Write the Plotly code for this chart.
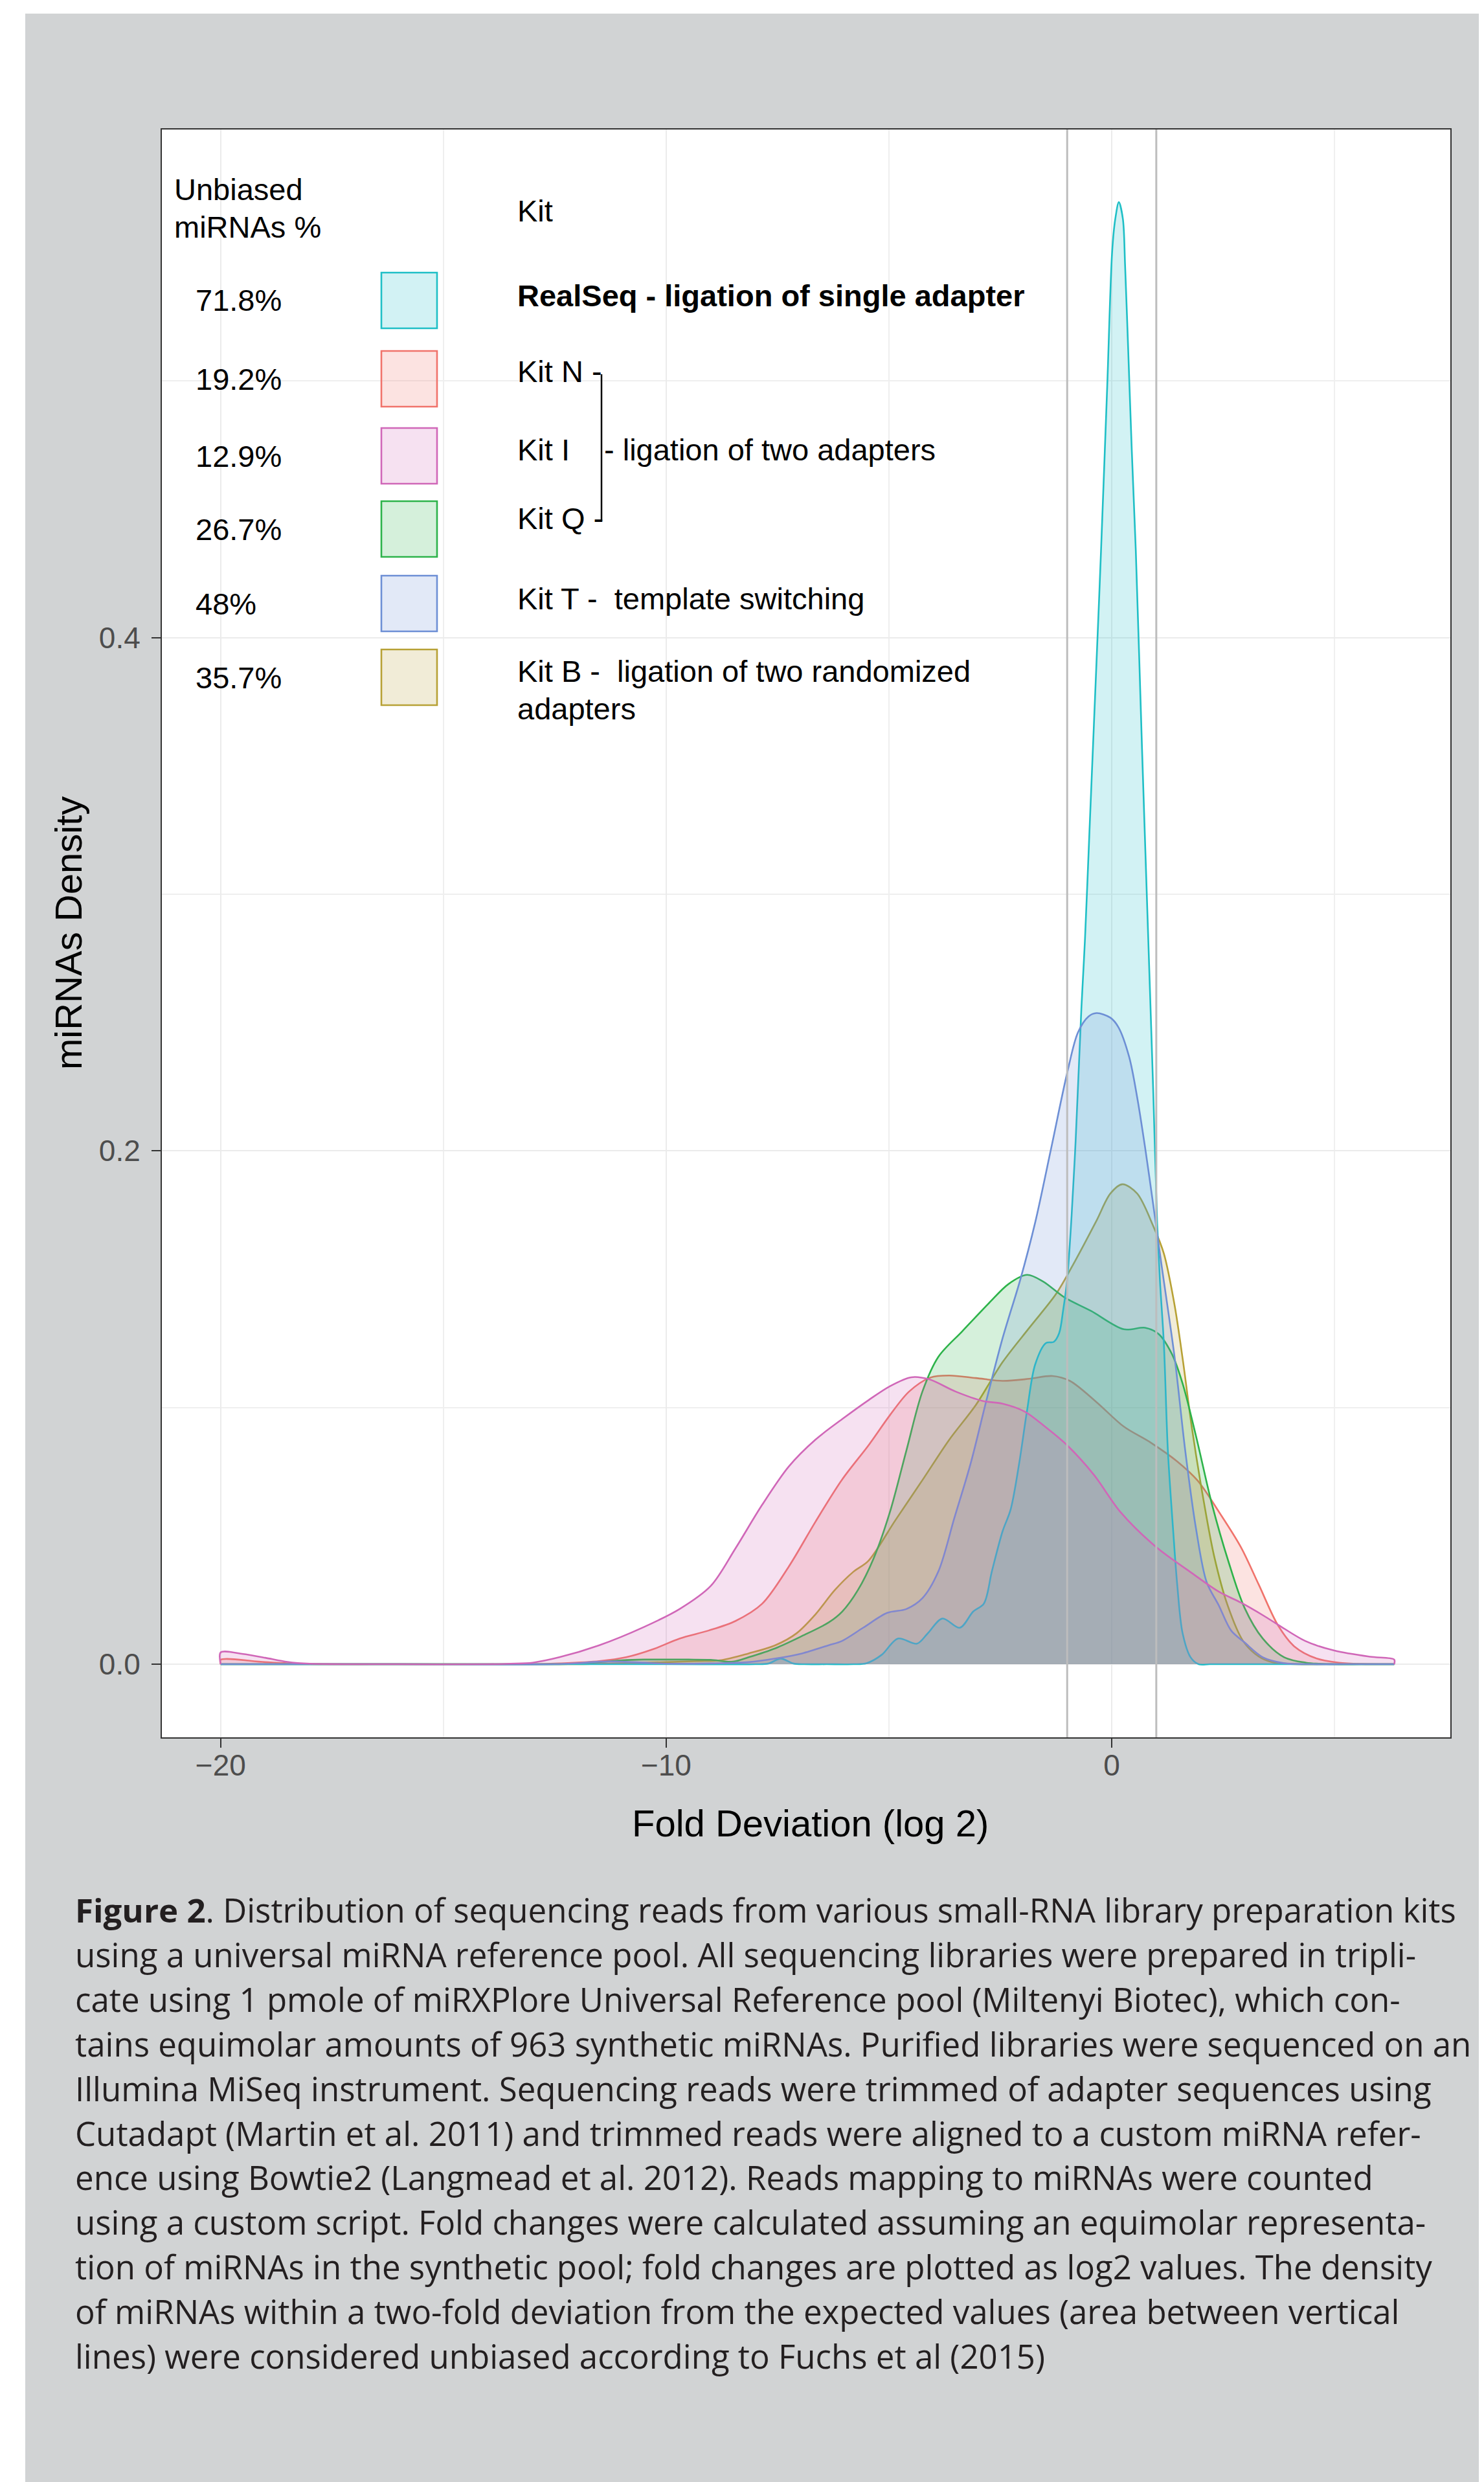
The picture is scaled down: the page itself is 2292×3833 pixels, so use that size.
import plotly.graph_objects as go

# ---------------- data ----------------
realseq_x = [-20, -14, -10, -8.0, -7.7, -7.43, -7.15, -6.9, -6.4, -5.8, -5.5, -5.16, -4.8, -4.37, -4.13, -3.8, -3.41,
             -3.11, -2.87, -2.69, -2.45, -2.27, -2.08, -1.9, -1.72, -1.48, -1.3, -1.18, -1.09, -1.0, -0.9, -0.81,
             -0.68, -0.6, -0.5, -0.4, -0.3, -0.24, -0.1, 0.01, 0.08, 0.16, 0.25, 0.3, 0.37, 0.45, 0.54, 0.68, 0.82,
             0.93, 1.02, 1.08, 1.17, 1.26, 1.38, 1.47, 1.59, 1.77, 1.95, 2.2, 2.8, 4.0, 5.2, 6.34]
realseq_y = [0, 0, 0, 0, 0.0003, 0.0022, 0.0003, 0, 0, 0, 0.0004, 0.0037, 0.0100, 0.0080, 0.0120, 0.0178, 0.0142,
             0.0205, 0.0236, 0.0362, 0.0518, 0.0602, 0.0780, 0.0989, 0.1167, 0.1251, 0.1256, 0.1290, 0.1380, 0.1500,
             0.1750, 0.2040, 0.2560, 0.2826, 0.3244, 0.3662, 0.4080, 0.4340, 0.4985, 0.5506, 0.5632, 0.5697, 0.5632,
             0.5450, 0.5120, 0.4730, 0.4340, 0.3567, 0.2826, 0.2242, 0.1719, 0.1500, 0.1250, 0.0832, 0.0518, 0.0310,
             0.0121, 0.0027, 0.0, 0.0, 0.0, 0.0, 0.0, 0.0]

kitn_x = [-20, -19, -18, -16, -14, -13, -12.4, -11.5, -10.9, -10.3, -9.7, -9.05, -8.45, -7.85, -7.25, -6.65, -6.05,
          -5.45, -4.98, -4.55, -4.07, -3.65, -3.05, -2.45, -1.85, -1.33, -0.94, -0.34, 0.27, 0.87, 1.47, 1.93, 2.42,
          2.9, 3.3, 3.73, 4.1, 4.6, 5.1, 5.6, 6.34]
kitn_y = [0.0017, 0.0008, 0.0001, 0.0, 0.0, 0.0, 0.0003, 0.0012, 0.0027, 0.0058, 0.0100, 0.0131, 0.0168, 0.0235,
          0.0380, 0.0555, 0.0720, 0.0855, 0.0970, 0.1062, 0.1117, 0.1125, 0.1115, 0.1104, 0.1112, 0.1123, 0.1104,
          0.1021, 0.0926, 0.0864, 0.0790, 0.0715, 0.0590, 0.0456, 0.0310, 0.0152, 0.0069, 0.0022, 0.0006, 0.0001,
          0.0]

kiti_x = [-20, -19.5, -19, -18.5, -18, -16, -14, -13.5, -13, -12.4, -11.5, -10.5, -9.7, -9.0, -8.45, -7.85, -7.25,
          -6.65, -6.05, -5.45, -4.98, -4.5, -4.1, -3.5, -2.9, -2.45, -1.95, -1.5, -1.0, -0.4, 0.2, 1.0, 1.8, 2.4, 2.9,
          3.4, 3.75, 4.35, 5.0, 5.8, 6.34]
kiti_y = [0.0046, 0.0040, 0.0025, 0.0009, 0.0002, 0.0, 0.0, 0.0002, 0.0006, 0.0027, 0.0074, 0.0145, 0.0215, 0.0305,
          0.0450, 0.0620, 0.0770, 0.0875, 0.0955, 0.1030, 0.1083, 0.1118, 0.1110, 0.1062, 0.1026, 0.1015, 0.0984,
          0.0926, 0.0853, 0.0738, 0.0592, 0.0456, 0.0355, 0.0283, 0.0240, 0.0190, 0.0152, 0.0090, 0.0053, 0.0029,
          0.0018]

kitq_x = [-20, -16, -12.5, -12, -11.5, -11, -10.5, -10, -9.5, -9, -8.5, -8.15, -7.55, -6.95, -6.35, -6.05, -5.7,
          -5.34, -4.98, -4.61, -4.25, -3.89, -3.35, -2.75, -2.32, -1.9, -1.54, -1.06, -0.46, 0.27, 0.75, 1.05, 1.35,
          1.59, 1.89, 2.25, 2.62, 2.98, 3.39, 3.87, 4.36, 5.0, 5.6, 6.34]
kitq_y = [0, 0, 0, 0.0002, 0.0008, 0.0015, 0.0018, 0.0018, 0.0018, 0.0017, 0.0010, 0.0027, 0.0062, 0.0110, 0.0163,
          0.0205, 0.0288, 0.0414, 0.0592, 0.0832, 0.1062, 0.1198, 0.1298, 0.1408, 0.1481, 0.1517, 0.1491, 0.1429,
          0.1376, 0.1305, 0.1311, 0.1287, 0.1209, 0.1094, 0.0890, 0.0623, 0.0400, 0.0220, 0.0100, 0.0027, 0.0006,
          0.0, 0.0, 0.0]

kitt_x = [-20, -16, -12.5, -12, -11.5, -11, -10.5, -10, -9, -8.15, -7.55, -6.95, -6.35, -6.06, -5.58, -5.04, -4.61,
          -4.25, -3.89, -3.53, -3.17, -2.81, -2.45, -2.05, -1.72, -1.36, -1.0, -0.76, -0.52, -0.34, -0.03, 0.15, 0.39,
          0.57, 0.75, 0.93, 1.11, 1.41, 1.65, 1.89, 2.13, 2.4, 2.68, 2.98, 3.39, 3.87, 4.5, 5.2, 6.34]
kitt_y = [0, 0, 0, 0.0004, 0.0010, 0.0010, 0.0006, 0.0002, 0.0003, 0.0008, 0.0022, 0.0042, 0.0074, 0.0090, 0.0142,
          0.0200, 0.0215, 0.0257, 0.0362, 0.0571, 0.0780, 0.1030, 0.1270, 0.1500, 0.1720, 0.2010, 0.2304, 0.2461,
          0.2524, 0.2537, 0.2519, 0.2482, 0.2367, 0.2210, 0.2012, 0.1792, 0.1565, 0.1198, 0.0832, 0.0530, 0.0320,
          0.0230, 0.0131, 0.0085, 0.0027, 0.0004, 0.0, 0.0, 0.0]

kitb_x = [-20, -16, -12, -11, -10, -9.3, -8.76, -8.15, -7.55, -7.07, -6.65, -6.22, -5.8, -5.46, -4.86, -4.25, -3.65,
          -3.05, -2.45, -1.84, -1.24, -0.82, -0.34, -0.03, 0.24, 0.57, 0.93, 1.17, 1.41, 1.6, 1.8, 2.07, 2.3, 2.6,
          2.95, 3.3, 3.6, 4.2, 4.8, 5.5, 6.34]
kitb_y = [0, 0, 0, 0.0004, 0.0008, 0.0012, 0.0016, 0.0042, 0.0074, 0.0121, 0.0194, 0.0288, 0.0360, 0.0403, 0.0560,
          0.0717, 0.0874, 0.1010, 0.1177, 0.1313, 0.1445, 0.1572, 0.1729, 0.1834, 0.1870, 0.1834, 0.1708, 0.1600,
          0.1400, 0.1180, 0.0920, 0.0630, 0.0420, 0.0230, 0.0090, 0.0030, 0.0008, 0.0, 0.0, 0.0, 0.0]

# drawing order (ggplot group order)
draw_order = ["Kit N", "Kit B", "Kit Q", "RealSeq", "Kit T", "Kit I"]
series = {
    "RealSeq": (realseq_x, realseq_y),
    "Kit N": (kitn_x, kitn_y),
    "Kit I": (kiti_x, kiti_y),
    "Kit Q": (kitq_x, kitq_y),
    "Kit T": (kitt_x, kitt_y),
    "Kit B": (kitb_x, kitb_y),
}
colors = {
    "RealSeq": "#1FBFC6",
    "Kit N": "#F0736B",
    "Kit I": "#D067B8",
    "Kit Q": "#2DB34A",
    "Kit T": "#6D8FD5",
    "Kit B": "#B7A135",
}

# legend content
legend_kits = ["RealSeq", "Kit N", "Kit I", "Kit Q", "Kit T", "Kit B"]
legend_pct = ["71.8%", "19.2%", "12.9%", "26.7%", "48%", "35.7%"]

unbiased_bounds = [-1, 1]
x_ticks = [-20, -10, 0]
x_minor = [-15, -5, 5]
y_ticks = [0.0, 0.2, 0.4]
y_ticktext = ["0.0", "0.2", "0.4"]
y_minor = [0.1, 0.3, 0.5]

caption_lines = [
    "<b>Figure 2</b>. Distribution of sequencing reads from various small-RNA library preparation kits",
    "using a universal miRNA reference pool. All sequencing libraries were prepared in tripli-",
    "cate using 1 pmole of miRXPlore Universal Reference pool (Miltenyi Biotec), which con-",
    "tains equimolar amounts of 963 synthetic miRNAs. Purified libraries were sequenced on an",
    "Illumina MiSeq instrument. Sequencing reads were trimmed of adapter sequences using",
    "Cutadapt (Martin et al. 2011) and trimmed reads were aligned to a custom miRNA refer-",
    "ence using Bowtie2 (Langmead et al. 2012). Reads mapping to miRNAs were counted",
    "using a custom script. Fold changes were calculated assuming an equimolar representa-",
    "tion of miRNAs in the synthetic pool; fold changes are plotted as log2 values. The density",
    "of miRNAs within a two-fold deviation from the expected values (area between vertical",
    "lines) were considered unbiased according to Fuchs et al (2015)",
]

# ---------------- layout geometry ----------------
OFF = 8  # page body margin
FIG_W, FIG_H = 2310, 3840
ML, MT = 250 - OFF, 200 - OFF
MR = FIG_W - (2240 - OFF)
MB = FIG_H - (2683 - OFF)
PW = FIG_W - ML - MR
PH = FIG_H - MT - MB


def px(X):  # page pixel -> paper fraction
    return (X - OFF - ML) / PW


def py(Y):
    return (FIG_H - MB - (Y - OFF)) / PH


def rgba(h, a):
    h = h.lstrip("#")
    r, g, b = int(h[0:2], 16), int(h[2:4], 16), int(h[4:6], 16)
    return f"rgba({r},{g},{b},{a})"


FONT = "Liberation Sans, Arial, Helvetica, sans-serif"
CAP_FONT = "Open Sans, Noto Sans, sans-serif"

fig = go.Figure()

for name in draw_order:
    xs, ys = series[name]
    px_list = list(xs)
    py_list = list(ys)
    if py_list[0] != 0:
        px_list = [xs[0]] + px_list
        py_list = [0] + py_list
    if py_list[-1] != 0:
        px_list = px_list + [xs[-1]]
        py_list = py_list + [0]
    fig.add_trace(go.Scatter(
        x=px_list, y=py_list, mode="lines", fill="toself",
        fillcolor=rgba(colors[name], 0.2),
        line=dict(color=colors[name], width=2.6, shape="spline", smoothing=0.9),
        hoverinfo="skip", showlegend=False, name=name,
    ))

shapes = []
# white page strips (top and left) outside the grey figure box
shapes.append(dict(type="rect", xref="paper", yref="paper", x0=px(OFF - 20), x1=px(2400), y0=py(OFF - 20), y1=py(21),
                   fillcolor="white", line=dict(width=0), layer="below"))
shapes.append(dict(type="rect", xref="paper", yref="paper", x0=px(OFF - 20), x1=px(39), y0=py(OFF - 20), y1=py(3900),
                   fillcolor="white", line=dict(width=0), layer="below"))
# vertical lines (two-fold deviation)
for v in unbiased_bounds:
    shapes.append(dict(type="line", xref="x", yref="paper", x0=v, x1=v, y0=0, y1=1,
                       line=dict(color="#BDBDBD", width=3), layer="above"))

annotations = []


def text(x, y, s, size=47, color="black", xanchor="left", bold=False, family=FONT, angle=0):
    annotations.append(dict(
        x=x, y=y, xref="paper", yref="paper", text=(f"<b>{s}</b>" if bold else s),
        showarrow=False, xanchor=xanchor, yanchor="middle", textangle=angle,
        font=dict(family=family, size=size, color=color),
    ))


# legend header
text(px(267), py(293), "Unbiased")
text(px(267), py(350), "miRNAs %")
text(px(797), py(325), "Kit")

row_y = [464, 585, 704, 817, 932, 1046]
label_y = [456, 574, 694, 801, 924, 1036]
kit_labels = {
    "RealSeq": "RealSeq - ligation of single adapter",
    "Kit N": "Kit N -",
    "Kit I": "Kit I",
    "Kit Q": "Kit Q -",
    "Kit T": "Kit T -\u00a0 template switching",
    "Kit B": "Kit B -\u00a0 ligation of two randomized",
}
for i, k in enumerate(legend_kits):
    text(px(300), py(row_y[i]), legend_pct[i])
    shapes.append(dict(type="rect", xref="paper", yref="paper",
                       x0=px(589), x1=px(675), y0=py(row_y[i] + 43), y1=py(row_y[i] - 43),
                       fillcolor=rgba(colors[k], 0.2), line=dict(color=colors[k], width=2.6)))
    text(px(797), py(label_y[i]), kit_labels[k], bold=(k == "RealSeq"))
text(px(797), py(1094), "adapters")
text(px(931), py(694), "- ligation of two adapters")
# bracket
shapes.append(dict(type="line", xref="paper", yref="paper", x0=px(929), x1=px(929), y0=py(578), y1=py(805),
                   line=dict(color="black", width=2.5)))

# axis titles
text(px(1251), py(2815), "Fold Deviation (log 2)", size=58, xanchor="center")
text(px(105), py(1441), "miRNAs Density", size=58, xanchor="center", angle=-90)

# caption
for i, line in enumerate(caption_lines):
    text(px(114), py(2949 + i * 68.9), line, size=51, color="#231F20", family=CAP_FONT)

axis_common = dict(
    showline=True, linecolor="#333333", linewidth=2, mirror=True,
    ticks="outside", ticklen=14, tickwidth=2, tickcolor="#333333",
    showgrid=True, gridcolor="#EBEBEB", gridwidth=2, zeroline=False,
    tickfont=dict(family=FONT, size=46, color="#4D4D4D"),
    automargin=False,
)

fig.update_layout(
    width=FIG_W, height=FIG_H,
    margin=dict(l=ML, r=MR, t=MT, b=MB, pad=0),
    paper_bgcolor="#D1D3D4", plot_bgcolor="white",
    shapes=shapes, annotations=annotations,
    xaxis=dict(range=[-21.32, 7.60], tickvals=x_ticks,
               minor=dict(tickvals=x_minor, showgrid=True, gridcolor="#EFEFEF", gridwidth=1.5, ticks=""),
               ticklabelstandoff=-12, **axis_common),
    yaxis=dict(range=[-0.0285, 0.598], tickvals=y_ticks, ticktext=y_ticktext,
               minor=dict(tickvals=y_minor, showgrid=True, gridcolor="#EFEFEF", gridwidth=1.5, ticks=""),
               ticklabelstandoff=8, **axis_common),
    showlegend=False,
)

fig.write_html("out.html")
